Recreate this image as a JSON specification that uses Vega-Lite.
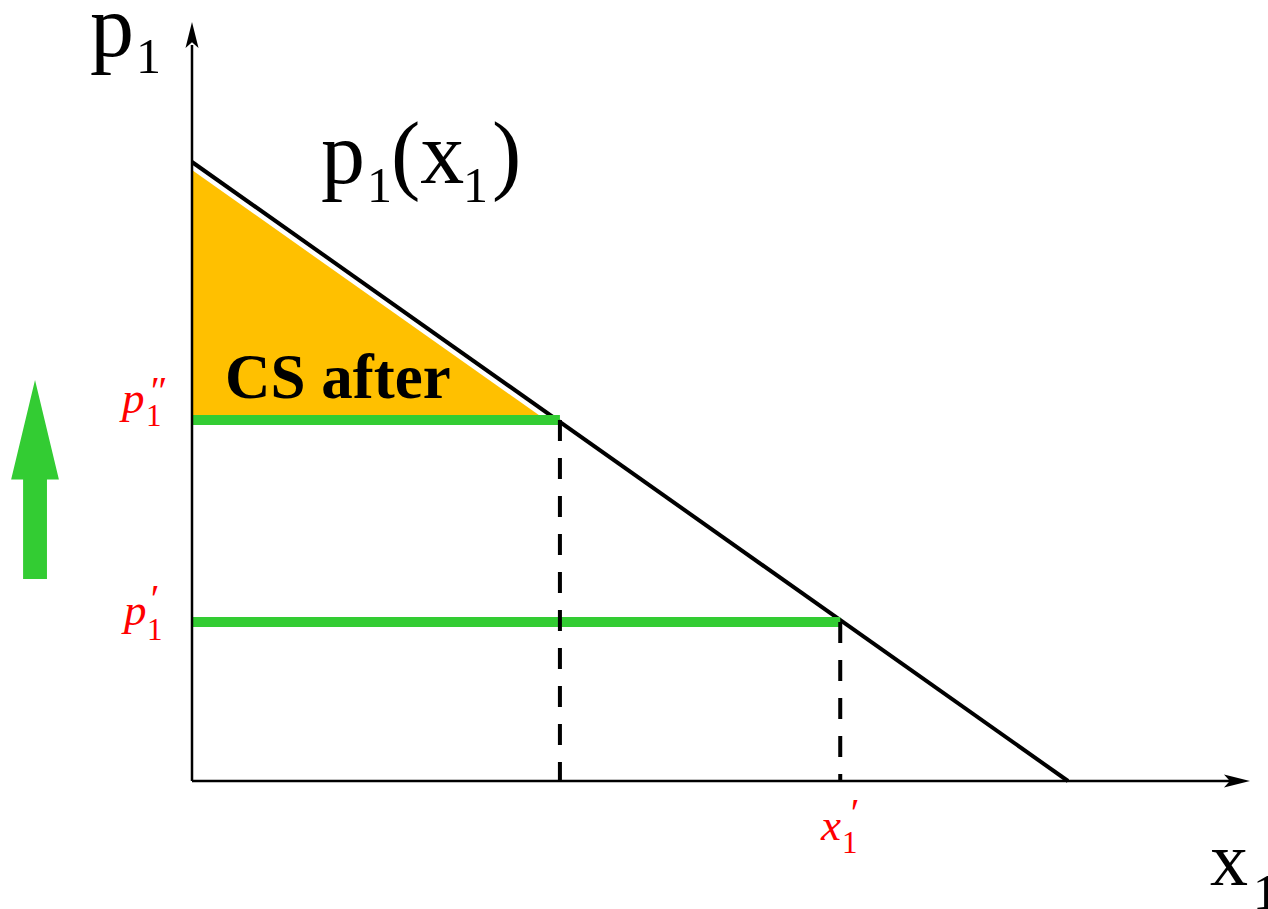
{
  "$schema": "https://vega.github.io/schema/vega-lite/v6.json",
  "width": 1268,
  "height": 909,
  "autosize": {"type": "none"},
  "padding": 0,
  "config": {"view": {"stroke": null}, "text": {"font": "Liberation Serif, Times New Roman, DejaVu Serif, serif"}},
  "datasets": {
    "demand": [{"x": 0, "y": 10, "x2": 10, "y2": 0}],
    "cs": [{"x": 0, "y": 9.87, "y2": 5.83}, {"x": 4.04, "y": 5.83, "y2": 5.83}],
    "prices": [{"x": 0, "y": 5.83, "x2": 4.2}, {"x": 0, "y": 2.57, "x2": 7.4}],
    "drops": [{"x": 4.2, "y": 5.83, "y2": 0}, {"x": 7.4, "y": 2.57, "y2": 0}],
    "axes": [{"x": 0, "y": 0, "x2": 0, "y2": 11.89}, {"x": 0, "y": 0, "x2": 11.85, "y2": 0}],
    "arrows": [{"x": 0, "y": 12.052, "dir": "up"}, {"x": 11.929, "y": 0, "dir": "right"}],
    "shift": [{"x": -1.792, "y": 4.871}],
    "labels": [
      {"role": "main", "label": "p", "x": -1.164, "y": 11.712},
      {"role": "main", "label": "p", "x": 1.473, "y": 9.661},
      {"role": "main", "label": "(x", "x": 2.272, "y": 9.661},
      {"role": "main", "label": ")", "x": 3.425, "y": 9.661},
      {"role": "sub", "label": "1", "x": -0.639, "y": 11.438},
      {"role": "sub", "label": "1", "x": 1.998, "y": 9.354},
      {"role": "sub", "label": "1", "x": 3.094, "y": 9.354},
      {"role": "sub", "label": "1", "x": 12.112, "y": -2.06},
      {"role": "xmain", "label": "x", "x": 11.621, "y": -1.68},
      {"role": "cs", "label": "CS after", "x": 0.377, "y": 6.187},
      {"role": "redmain", "label": "p", "x": -0.799, "y": 5.945},
      {"role": "redmain", "label": "p", "x": -0.776, "y": 2.52},
      {"role": "redmain", "label": "x", "x": 7.18, "y": -0.953},
      {"role": "redsub", "label": "1", "x": -0.525, "y": 5.735},
      {"role": "redsub", "label": "1", "x": -0.514, "y": 2.278},
      {"role": "redsub", "label": "1", "x": 7.42, "y": -1.163},
      {"role": "prime", "label": "″", "x": -0.47, "y": 6.09},
      {"role": "prime", "label": "′", "x": -0.47, "y": 2.73},
      {"role": "prime", "label": "′", "x": 7.52, "y": -0.73}
    ]
  },
  "encoding": {
    "x": {"field": "x", "type": "quantitative", "scale": {"domain": [-2.1918, 12.2831], "nice": false, "zero": false}, "axis": null},
    "y": {"field": "y", "type": "quantitative", "scale": {"domain": [-2.0679, 12.6171], "nice": false, "zero": false}, "axis": null}
  },
  "layer": [
    {
      "data": {"name": "cs"},
      "mark": {"type": "area", "color": "#FFC000", "opacity": 1},
      "encoding": {"y2": {"field": "y2"}}
    },
    {
      "data": {"name": "demand"},
      "mark": {"type": "rule", "color": "black", "strokeWidth": 4},
      "encoding": {"x2": {"field": "x2"}, "y2": {"field": "y2"}}
    },
    {
      "data": {"name": "prices"},
      "mark": {"type": "rule", "color": "#33CC33", "strokeWidth": 10},
      "encoding": {"x2": {"field": "x2"}}
    },
    {
      "data": {"name": "drops"},
      "mark": {"type": "rule", "color": "black", "strokeWidth": 4, "strokeDash": [21, 17]},
      "encoding": {"y2": {"field": "y2"}}
    },
    {
      "data": {"name": "axes"},
      "mark": {"type": "rule", "color": "black", "strokeWidth": 2.5},
      "encoding": {"x2": {"field": "x2"}, "y2": {"field": "y2"}}
    },
    {
      "data": {"name": "arrows"},
      "transform": [{"filter": "datum.dir === 'up'"}],
      "mark": {"type": "point", "shape": "M0,-1L0.5,1L0,0.55L-0.5,1Z", "size": 676, "filled": true, "color": "black", "opacity": 1, "strokeWidth": 0}
    },
    {
      "data": {"name": "arrows"},
      "transform": [{"filter": "datum.dir === 'right'"}],
      "mark": {"type": "point", "shape": "M0,-1L0.5,1L0,0.55L-0.5,1Z", "size": 676, "angle": 90, "filled": true, "color": "black", "opacity": 1, "strokeWidth": 0}
    },
    {
      "data": {"name": "shift"},
      "mark": {"type": "point", "shape": "M0,-1L0.24,0L0.12,0L0.12,1L-0.12,1L-0.12,0L-0.24,0Z", "size": 39601, "filled": true, "color": "#33CC33", "opacity": 1, "strokeWidth": 0}
    },
    {
      "data": {"name": "labels"},
      "transform": [{"filter": "datum.role === 'main'"}],
      "mark": {"type": "text", "fontSize": 88, "align": "left", "baseline": "alphabetic", "color": "black"},
      "encoding": {"text": {"field": "label"}}
    },
    {
      "data": {"name": "labels"},
      "transform": [{"filter": "datum.role === 'sub'"}],
      "mark": {"type": "text", "fontSize": 50, "align": "left", "baseline": "alphabetic", "color": "black"},
      "encoding": {"text": {"field": "label"}}
    },
    {
      "data": {"name": "labels"},
      "transform": [{"filter": "datum.role === 'xmain'"}],
      "mark": {"type": "text", "fontSize": 76, "align": "left", "baseline": "alphabetic", "color": "black"},
      "encoding": {"text": {"field": "label"}}
    },
    {
      "data": {"name": "labels"},
      "transform": [{"filter": "datum.role === 'cs'"}],
      "mark": {"type": "text", "fontSize": 63, "fontWeight": "bold", "align": "left", "baseline": "alphabetic", "color": "black"},
      "encoding": {"text": {"field": "label"}}
    },
    {
      "data": {"name": "labels"},
      "transform": [{"filter": "datum.role === 'redmain'"}],
      "mark": {"type": "text", "fontSize": 45, "fontStyle": "italic", "align": "left", "baseline": "alphabetic", "color": "#FF0000"},
      "encoding": {"text": {"field": "label"}}
    },
    {
      "data": {"name": "labels"},
      "transform": [{"filter": "datum.role === 'redsub'"}],
      "mark": {"type": "text", "fontSize": 31, "align": "left", "baseline": "alphabetic", "color": "#FF0000"},
      "encoding": {"text": {"field": "label"}}
    },
    {
      "data": {"name": "labels"},
      "transform": [{"filter": "datum.role === 'prime'"}],
      "mark": {"type": "text", "fontSize": 40, "align": "left", "baseline": "alphabetic", "color": "#FF0000"},
      "encoding": {"text": {"field": "label"}}
    }
  ]
}
